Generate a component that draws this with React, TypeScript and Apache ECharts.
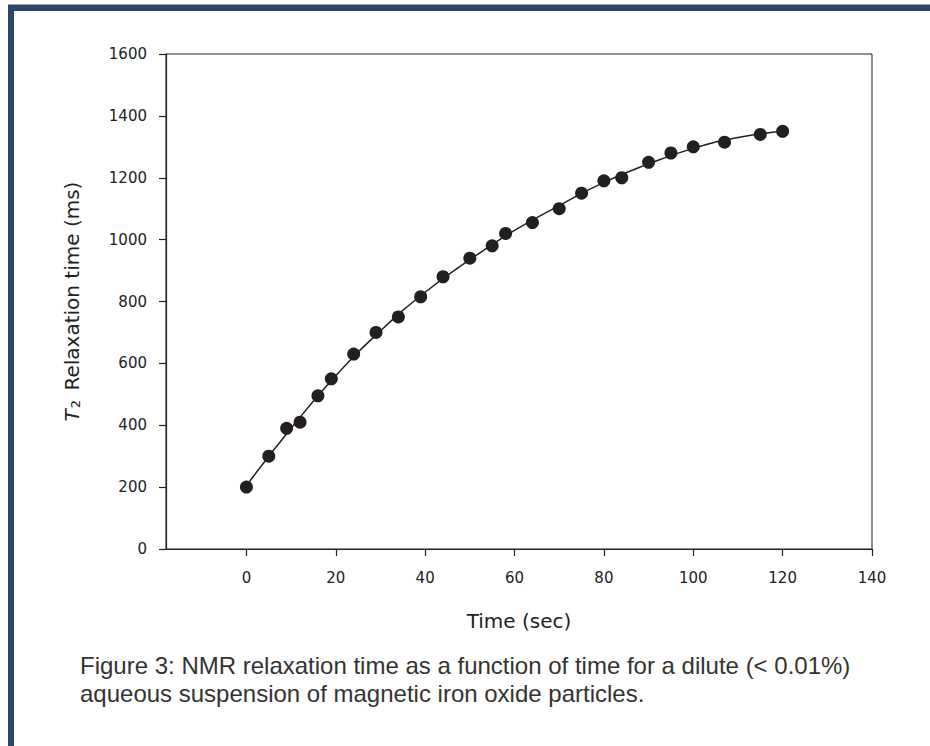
import React, { useEffect, useRef } from "react";
import * as echarts from "echarts";

const timeSec = [0, 5, 9, 12, 16, 19, 24, 29, 34, 39, 44, 50, 55, 58, 64, 70, 75, 80, 84, 90, 95, 100, 107, 115, 120];
const t2Ms = [200, 300, 390, 410, 495, 550, 630, 700, 750, 815, 880, 940, 980, 1020, 1055, 1100, 1150, 1190, 1200, 1250, 1280, 1300, 1315, 1340, 1350];
const fitTime = [0, 10, 20, 30, 40, 50, 60, 70, 80, 90, 100, 110, 120];
const fitT2 = [205, 390, 560, 705, 830, 935, 1030, 1110, 1185, 1245, 1295, 1330, 1350];
const xTicks = [0, 20, 40, 60, 80, 100, 120, 140];
const captionLines = [
  "Figure 3: NMR relaxation time as a function of time for a dilute (< 0.01%)",
  "aqueous suspension of magnetic iron oxide particles.",
];

const FONT = "'Liberation Sans', Arial, Helvetica, sans-serif";
const WIDE = "'DejaVu Sans', Verdana, sans-serif";
const INK = "#231f20";
const NAVY = "#2c4669";

export default function App() {
  const ref = useRef<HTMLDivElement>(null);

  useEffect(() => {
    if (!ref.current) return;
    const chart = echarts.init(ref.current, undefined, { renderer: "svg" });
    chart.setOption({
      animation: false,
      backgroundColor: "#ffffff",
      grid: {
        left: 166,
        right: 58,
        top: 54,
        bottom: 197,
        show: true,
        borderColor: INK,
        borderWidth: 1,
        backgroundColor: "transparent",
      },
      xAxis: {
        type: "value",
        min: -18,
        max: 140,
        splitLine: { show: false },
        axisLine: { show: true, onZero: false, lineStyle: { color: INK, width: 1.2 } },
        axisTick: { show: true, inside: false, length: 7, customValues: xTicks, lineStyle: { color: INK, width: 1.2 } },
        axisLabel: {
          customValues: xTicks,
          margin: 21,
          color: "#222",
          fontSize: 15,
          fontFamily: WIDE,
          formatter: (v: number) => String(v),
        },
        name: "Time (sec)",
        nameLocation: "middle",
        nameGap: 62,
        nameTextStyle: { color: "#222", fontSize: 20, fontFamily: WIDE },
      },
      yAxis: {
        type: "value",
        min: 0,
        max: 1600,
        interval: 200,
        splitLine: { show: false },
        axisLine: { show: true, onZero: false, lineStyle: { color: INK, width: 1.2 } },
        axisTick: { show: true, inside: false, length: 7, lineStyle: { color: INK, width: 1.2 } },
        axisLabel: {
          margin: 19,
          color: "#222",
          fontSize: 15,
          fontFamily: WIDE,
          formatter: (v: number) => String(v),
        },
        name: "{i|T}{sub|2} Relaxation time (ms)",
        nameLocation: "middle",
        nameGap: 84,
        nameTextStyle: {
          color: "#222",
          fontSize: 20,
          fontFamily: WIDE,
          rich: {
            i: { fontStyle: "italic", fontSize: 20, fontFamily: WIDE, color: "#222" },
            sub: { fontSize: 13, fontFamily: WIDE, color: "#222", verticalAlign: "bottom", padding: [8, 3, 0, 1] },
          },
        },
      },
      series: [
        {
          type: "line",
          name: "fit",
          data: fitTime.map((x, i) => [x, fitT2[i]]),
          smooth: 0.5,
          showSymbol: false,
          symbol: "none",
          lineStyle: { color: INK, width: 1.5 },
          z: 2,
        },
        {
          type: "scatter",
          name: "T2",
          data: timeSec.map((x, i) => [x, t2Ms[i]]),
          symbol: "circle",
          symbolSize: 13,
          itemStyle: { color: INK, opacity: 1 },
          z: 3,
        },
      ],
      graphic: [
        { type: "rect", shape: { x: 8, y: 4, width: 922, height: 1 }, style: { fill: "#9aa8ba" }, silent: true },
        { type: "rect", shape: { x: 8, y: 5, width: 922, height: 6 }, style: { fill: NAVY }, silent: true },
        { type: "rect", shape: { x: 8, y: 5, width: 6, height: 741 }, style: { fill: NAVY }, silent: true },
        {
          type: "text",
          x: 80,
          y: 665,
          style: { text: captionLines[0], fill: "#333", fontSize: 24, fontFamily: FONT, verticalAlign: "middle", align: "left" },
          silent: true,
        },
        {
          type: "text",
          x: 80,
          y: 693,
          style: { text: captionLines[1], fill: "#333", fontSize: 24, fontFamily: FONT, verticalAlign: "middle", align: "left" },
          silent: true,
        },
      ],
    });
    return () => chart.dispose();
  }, []);

  return (
    <div
      ref={ref}
      style={{ position: "fixed", left: 0, top: 0, width: 930, height: 746 }}
    />
  );
}
